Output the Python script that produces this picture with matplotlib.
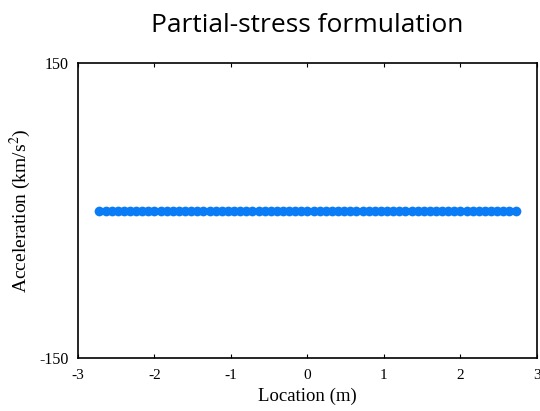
import matplotlib
matplotlib.use('Agg')
import matplotlib.pyplot as plt

# locations (m) and acceleration values (km/s^2)
location = [-2.72, -2.64, -2.56, -2.48, -2.40, -2.32, -2.24, -2.16, -2.08, -2.00,
            -1.92, -1.84, -1.76, -1.68, -1.60, -1.52, -1.44, -1.36, -1.28, -1.20,
            -1.12, -1.04, -0.96, -0.88, -0.80, -0.72, -0.64, -0.56, -0.48, -0.40,
            -0.32, -0.24, -0.16, -0.08, 0.00, 0.08, 0.16, 0.24, 0.32, 0.40,
            0.48, 0.56, 0.64, 0.72, 0.80, 0.88, 0.96, 1.04, 1.12, 1.20,
            1.28, 1.36, 1.44, 1.52, 1.60, 1.68, 1.76, 1.84, 1.92, 2.00,
            2.08, 2.16, 2.24, 2.32, 2.40, 2.48, 2.56, 2.64, 2.72]
acceleration = [0.0] * len(location)

xticks = [-3, -2, -1, 0, 1, 2, 3]
yticks = [-150, 150]

plt.rcParams['axes.unicode_minus'] = False
plt.rcParams['mathtext.fontset'] = 'stix'

fig = plt.figure(figsize=(5.4, 4.11), dpi=100)
ax = fig.add_axes([0.1444, 0.129, 0.85, 0.7165])

ax.plot(location, acceleration, 'o', color='#0a7cf5', markersize=7, markeredgewidth=0)

ax.set_xlim(-3, 3)
ax.set_ylim(-150, 150)
ax.set_xticks(xticks)
ax.set_yticks(yticks)
ax.set_xticklabels([str(t) for t in xticks], family='Liberation Serif', fontsize=11)
ax.set_yticklabels([str(t) for t in yticks], family='Liberation Serif', fontsize=11.5)
ax.tick_params(axis='x', direction='in', length=3, top=True, pad=8)
ax.tick_params(axis='y', direction='in', length=0, pad=7)
for s in ax.spines.values():
    s.set_linewidth(1.2)

ax.set_xlabel('Location (m)', family='Liberation Serif', fontsize=13.5, labelpad=4)
ax.set_ylabel(r'Acceleration (km/s$^2$)', family='Liberation Serif',
              fontsize=14, labelpad=4)
fig.text(0.569, 0.937, 'Partial-stress formulation', ha='center', va='center',
         family='Open Sans', fontsize=19)

fig.savefig('out.png', dpi=100)
